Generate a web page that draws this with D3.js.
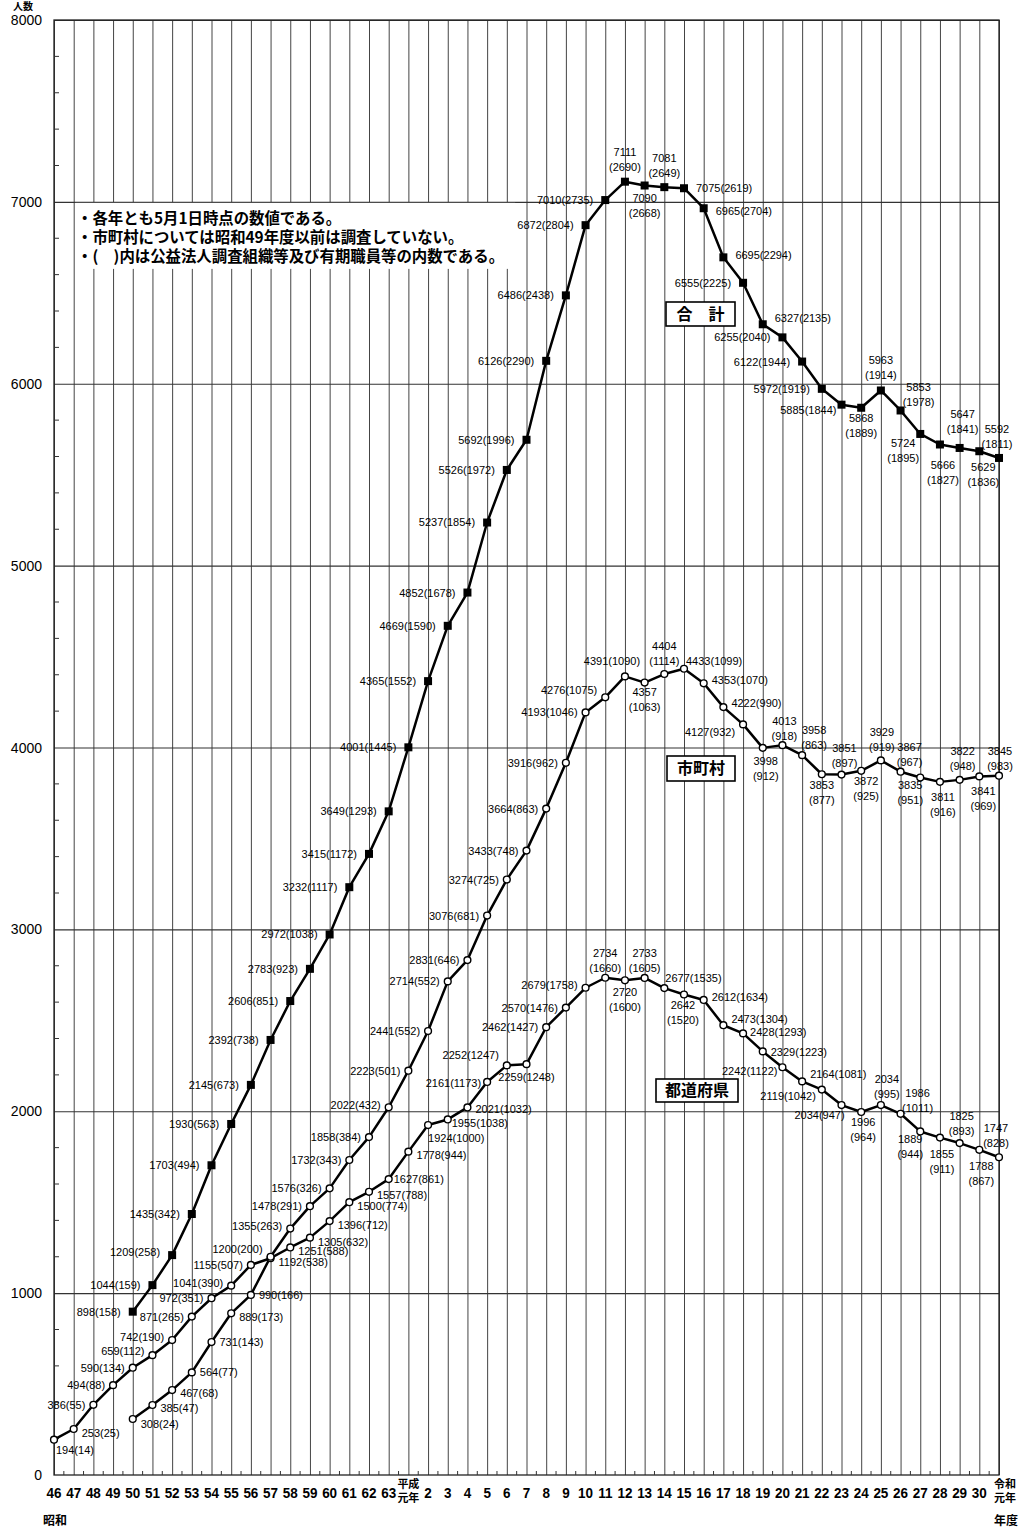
<!DOCTYPE html>
<html>
<head>
<meta charset="utf-8">
<script src="https://cdn.jsdelivr.net/npm/d3@7"></script>
<style>
body { margin: 0; background: #fff; }
</style>
</head>
<body>
<div id="chart-area"></div>
<script>
// data
var years = ["46","47","48","49","50","51","52","53","54","55","56","57","58","59","60","61","62","63",
	"平成元年","2","3","4","5","6","7","8","9","10","11","12","13","14","15","16","17","18","19","20",
	"21","22","23","24","25","26","27","28","29","30","令和元年"]

// 都道府県 (46 - 令和元)
var prefValues = [194,253,386,494,590,659,742,871,972,1041,1155,1192,1251,1305,1396,1500,1557,1627,
	1778,1924,1955,2021,2161,2252,2259,2462,2570,2679,2734,2720,2733,2677,2642,2612,2473,2428,2329,2242,
	2164,2119,2034,1996,2034,1986,1889,1855,1825,1788,1747]
var prefSub = [14,25,55,88,134,112,190,265,351,390,507,538,588,632,712,774,788,861,
	944,1000,1038,1032,1173,1247,1248,1427,1476,1758,1660,1600,1605,1535,1520,1634,1304,1293,1223,1122,
	1081,1042,947,964,995,1011,944,911,893,867,828]

// 市町村 (50 - 令和元)
var muniValues = [308,385,467,564,731,889,990,1200,1355,1478,1576,1732,1858,2022,
	2223,2441,2714,2831,3076,3274,3433,3664,3916,4193,4276,4391,4357,4404,4433,4353,4222,4127,3998,4013,
	3958,3853,3851,3872,3929,3867,3835,3811,3822,3841,3845]
var muniSub = [24,47,68,77,143,173,166,200,263,291,326,343,384,432,
	501,552,552,646,681,725,748,863,962,1046,1075,1090,1063,1114,1099,1070,990,932,912,918,
	863,877,897,925,919,967,951,916,948,969,983]

// 合計 (50 - 令和元)
var totalValues = [898,1044,1209,1435,1703,1930,2145,2392,2606,2783,2972,3232,3415,3649,
	4001,4365,4669,4852,5237,5526,5692,6126,6486,6872,7010,7111,7090,7081,7075,6965,6695,6555,6327,6255,
	6122,5972,5885,5868,5963,5853,5724,5666,5647,5629,5592]
var totalSub = [158,159,258,342,494,563,673,738,851,923,1038,1117,1172,1293,
	1445,1552,1590,1678,1854,1972,1996,2290,2438,2804,2735,2690,2668,2649,2619,2704,2294,2225,2135,2040,
	1944,1919,1844,1889,1914,1978,1895,1827,1841,1836,1811]

var yTicks = [0,1000,2000,3000,4000,5000,6000,7000,8000]
var seriesNames = ["合　計", "市町村", "都道府県"]
var notes = ["・各年とも5月1日時点の数値である。",
	"・市町村については昭和49年度以前は調査していない。",
	"・(　)内は公益法人調査組織等及び有期職員等の内数である。"]

// label placement: [type, dx, dy]  L/R = side, A/B = two lines above/below, U/D = one line above/below
var prefLabelPos = [["R",-6,10],["R",0,4],["L",0,0],["L",0,0],["L",0,0],["L",0,-4],["L",0,-3],["L",0,0],["L",0,0],["L",0,-3],["L",0,0],
	["R",0,4],["R",0,4],["R",0,4],["R",0,4],["R",0,4],["R",0,3],["R",-3,0],
	["R",0,3],["R",-8,13],["R",-4,4],["R",0,2],["L",2,1],["L",0,-10],["D",0,0],["L",0,0],["L",0,0],["L",0,-3],
	["A",0,3],["B",0,0],["A",0,3],["R",-7,-10],["B",-1,-1],["R",0,-3],["R",0,-6],["R",-1,-1],["R",0,1],["L",3,4],
	["R",0,-7],["L",2,6],["D",-22,-3],["B",2,-2],["A",6,2],["A",17,7],["B",-10,-4],["B",2,4],["A",2,1],["B",2,4],["A",-3,-1]]
var muniLabelPos = [["R",0,5],["R",0,3],["R",0,3],["R",0,0],["R",0,0],["R",0,4],["R",0,0],
	["L",0,-8],["L",0,-3],["L",0,0],["L",0,0],["L",0,0],["L",0,0],["L",0,-2],
	["L",0,0],["L",0,0],["L",0,0],["L",0,0],["L",0,0],["L",0,0],["L",0,0],["L",0,0],["L",0,0],["L",0,0],
	["L",0,-7],["U",-13,-1],["B",0,-3],["A",0,0],["R",-6,-8],["R",0,-3],["R",0,-4],["L",0,8],["B",3,1],["A",2,4],
	["A",12,3],["B",0,-1],["A",3,1],["B",5,-2],["A",1,0],["A",9,3],["B",-10,-4],["B",3,3],["A",3,-1],["B",4,3],["A",1,3]]
var totalLabelPos = [["L",0,0],["L",0,0],["L",0,-3],["L",0,0],["L",0,0],["L",0,0],["L",0,0],["L",0,0],["L",0,0],["L",0,0],
	["L",0,0],["L",0,0],["L",0,0],["L",0,0],
	["L",0,0],["L",0,0],["L",0,0],["L",0,0],["L",0,0],["L",0,0],["L",0,0],["L",0,0],["L",0,0],["L",0,0],
	["L",0,0],["A",0,-2],["B",0,1],["A",0,-1],["R",0,0],["R",0,3],["R",0,-2],["L",0,0],["R",0,-6],["L",0,0],
	["L",0,0],["L",0,0],["L",7,5],["B",0,-2],["A",0,-2],["A",18,5],["B",-17,-3],["B",3,9],["A",3,-6],["B",4,4],["A",-2,-1]]

var width = 1025, height = 1532
var plotLeft = 54, plotRight = 999, plotTop = 20, plotBottom = 1475

var svg = d3.select("#chart-area")
	.append("svg")
		.attr("width", width)
		.attr("height", height)
		.style("font-family", "'Liberation Sans', Arial, sans-serif")

// scales
var x = d3.scalePoint()
	.domain(years)
	.range([plotLeft, plotRight])
var y = d3.scaleLinear()
	.domain([0, 8000])
	.range([plotBottom, plotTop])

// vertical grid
svg.append("g")
	.attr("transform", "translate(0," + plotBottom + ")")
	.call(d3.axisBottom(x).tickSize(-(plotBottom - plotTop)).tickFormat(""))
	.call(g => g.select(".domain").remove())
	.selectAll("line")
		.attr("stroke", "#444")
		.attr("stroke-width", 1)

// horizontal grid
svg.append("g")
	.attr("transform", "translate(" + plotLeft + ",0)")
	.call(d3.axisLeft(y).tickValues(yTicks.slice(1)).tickSize(-(plotRight - plotLeft)).tickFormat(""))
	.call(g => g.select(".domain").remove())
	.selectAll("line")
		.attr("stroke", "#333")
		.attr("stroke-width", 1.2)

// frame
svg.append("rect")
	.attr("x", plotLeft)
	.attr("y", plotTop)
	.attr("width", plotRight - plotLeft)
	.attr("height", plotBottom - plotTop)
	.attr("fill", "none")
	.attr("stroke", "#222")
	.attr("stroke-width", 1.3)

// minor ticks on y axis
var minorY = d3.range(200, 8000, 200).filter(d => d % 1000 != 0)
svg.selectAll(".minor-y")
	.data(minorY)
	.enter().append("line")
		.attr("x1", plotLeft)
		.attr("x2", plotLeft + 5)
		.attr("y1", d => y(d))
		.attr("y2", d => y(d))
		.attr("stroke", "#333")

// minor ticks on x axis (half year)
svg.selectAll(".minor-x")
	.data(years.slice(0, years.length - 1))
	.enter().append("line")
		.attr("x1", d => x(d) + x.step() / 2)
		.attr("x2", d => x(d) + x.step() / 2)
		.attr("y1", plotBottom)
		.attr("y2", plotBottom - 4)
		.attr("stroke", "#333")

// y labels
svg.selectAll(".ylab")
	.data(yTicks)
	.enter().append("text")
		.attr("x", 42)
		.attr("y", d => y(d))
		.attr("dy", "0.36em")
		.attr("text-anchor", "end")
		.attr("font-size", "14px")
		.text(d => d)
svg.append("text")
	.attr("x", 13)
	.attr("y", 10)
	.attr("font-family", "'Noto Sans CJK JP', sans-serif")
	.attr("font-size", "10px")
	.attr("font-weight", "bold")
	.text("人数")

// x labels
years.forEach(function(yr, i) {
	var px = x(yr)
	if (yr.length > 2) {
		var cx = (i == years.length - 1) ? px + 6 : px
		svg.append("text")
			.attr("x", cx).attr("y", 1488)
			.attr("text-anchor", "middle")
			.attr("font-family", "'Noto Sans CJK JP', sans-serif")
			.attr("font-size", "11px").attr("font-weight", "bold")
			.text(yr.slice(0, 2))
		svg.append("text")
			.attr("x", cx).attr("y", 1502)
			.attr("text-anchor", "middle")
			.attr("font-family", "'Noto Sans CJK JP', sans-serif")
			.attr("font-size", "11px").attr("font-weight", "bold")
			.text(yr.slice(2))
	} else {
		svg.append("text")
			.attr("transform", "translate(" + px + ",1498) scale(0.87,1)")
			.attr("text-anchor", "middle")
			.attr("font-size", "15.5px")
			.attr("font-weight", "bold")
			.text(yr)
	}
})
svg.append("text")
	.attr("x", 55).attr("y", 1525)
	.attr("text-anchor", "middle")
	.attr("font-family", "'Noto Sans CJK JP', sans-serif")
	.attr("font-size", "12px").attr("font-weight", "bold")
	.text("昭和")
svg.append("text")
	.attr("x", 1006).attr("y", 1525)
	.attr("text-anchor", "middle")
	.attr("font-family", "'Noto Sans CJK JP', sans-serif")
	.attr("font-size", "12px").attr("font-weight", "bold")
	.text("年度")

// notes
svg.append("rect")
	.attr("x", x(years[1]) + 1.5)
	.attr("y", y(7000) + 1)
	.attr("width", 440)
	.attr("height", 66)
	.attr("fill", "#fff")
notes.forEach((n, i) => {
	svg.append("text")
		.attr("x", 77)
		.attr("y", 218 + i * 19)
		.attr("dy", "0.36em")
		.attr("font-family", "'Noto Sans CJK JP', sans-serif")
		.attr("font-size", "15.4px")
		.attr("font-weight", "bold")
		.text(n)
})

// series
function makeSeries(values, subs, offset, pos) {
	return values.map((v, i) => ({ year: years[i + offset], v: v, s: subs[i], pos: pos[i] }))
}
var prefData = makeSeries(prefValues, prefSub, 0, prefLabelPos)
var muniData = makeSeries(muniValues, muniSub, 4, muniLabelPos)
var totalData = makeSeries(totalValues, totalSub, 4, totalLabelPos)

var line = d3.line()
	.x(d => x(d.year))
	.y(d => y(d.v))

;[prefData, muniData, totalData].forEach(data => {
	svg.append("path")
		.datum(data)
		.attr("fill", "none")
		.attr("stroke", "#000")
		.attr("stroke-width", 2.5)
		.attr("stroke-linejoin", "round")
		.attr("d", line)
})

;[prefData, muniData].forEach(data => {
	svg.selectAll(null)
		.data(data)
		.enter().append("circle")
			.attr("cx", d => x(d.year))
			.attr("cy", d => y(d.v))
			.attr("r", 3.4)
			.attr("fill", "#fff")
			.attr("stroke", "#000")
			.attr("stroke-width", 1.4)
})
svg.selectAll(null)
	.data(totalData)
	.enter().append("rect")
		.attr("x", d => x(d.year) - 4)
		.attr("y", d => y(d.v) - 4)
		.attr("width", 8)
		.attr("height", 8)
		.attr("fill", "#000")

// value labels
function drawLabels(data, gap) {
	data.forEach(d => {
		var px = x(d.year), py = y(d.v)
		var type = d.pos[0], dx = d.pos[1], dy = d.pos[2]
		var full = d.v + "(" + d.s + ")"
		var lab = svg.append("g").attr("font-size", "11px")
		if (type == "L" || type == "R") {
			lab.append("text")
				.attr("x", type == "L" ? px - gap + dx : px + gap + dx)
				.attr("y", py + dy)
				.attr("dy", "0.36em")
				.attr("text-anchor", type == "L" ? "end" : "start")
				.text(full)
		} else if (type == "U" || type == "D") {
			lab.append("text")
				.attr("x", px + dx)
				.attr("y", py + (type == "U" ? -14 : 13) + dy)
				.attr("dy", "0.36em")
				.attr("text-anchor", "middle")
				.text(full)
		} else {
			var y1 = type == "A" ? -28 : 12
			lab.append("text")
				.attr("x", px + dx)
				.attr("y", py + y1 + dy)
				.attr("dy", "0.36em")
				.attr("text-anchor", "middle")
				.text(d.v)
			lab.append("text")
				.attr("x", px + dx)
				.attr("y", py + y1 + 15 + dy)
				.attr("dy", "0.36em")
				.attr("text-anchor", "middle")
				.text("(" + d.s + ")")
		}
	})
}
drawLabels(prefData, 8)
drawLabels(muniData, 8)
drawLabels(totalData, 12)

// series name boxes
var nameBoxes = [
	{ x: 666, y: 302, w: 69, h: 24 },
	{ x: 667, y: 756, w: 68, h: 25 },
	{ x: 656, y: 1079, w: 82, h: 23 }
]
seriesNames.forEach((name, i) => {
	var b = nameBoxes[i]
	svg.append("rect")
		.attr("x", b.x).attr("y", b.y)
		.attr("width", b.w).attr("height", b.h)
		.attr("fill", "#fff")
		.attr("stroke", "#000")
		.attr("stroke-width", 1.6)
	svg.append("text")
		.attr("x", b.x + b.w / 2)
		.attr("y", b.y + b.h / 2)
		.attr("dy", "0.36em")
		.attr("text-anchor", "middle")
		.attr("font-family", "'Noto Sans CJK JP', sans-serif")
		.attr("font-size", "16px")
		.attr("font-weight", "bold")
		.text(name)
})
</script>
</body>
</html>
